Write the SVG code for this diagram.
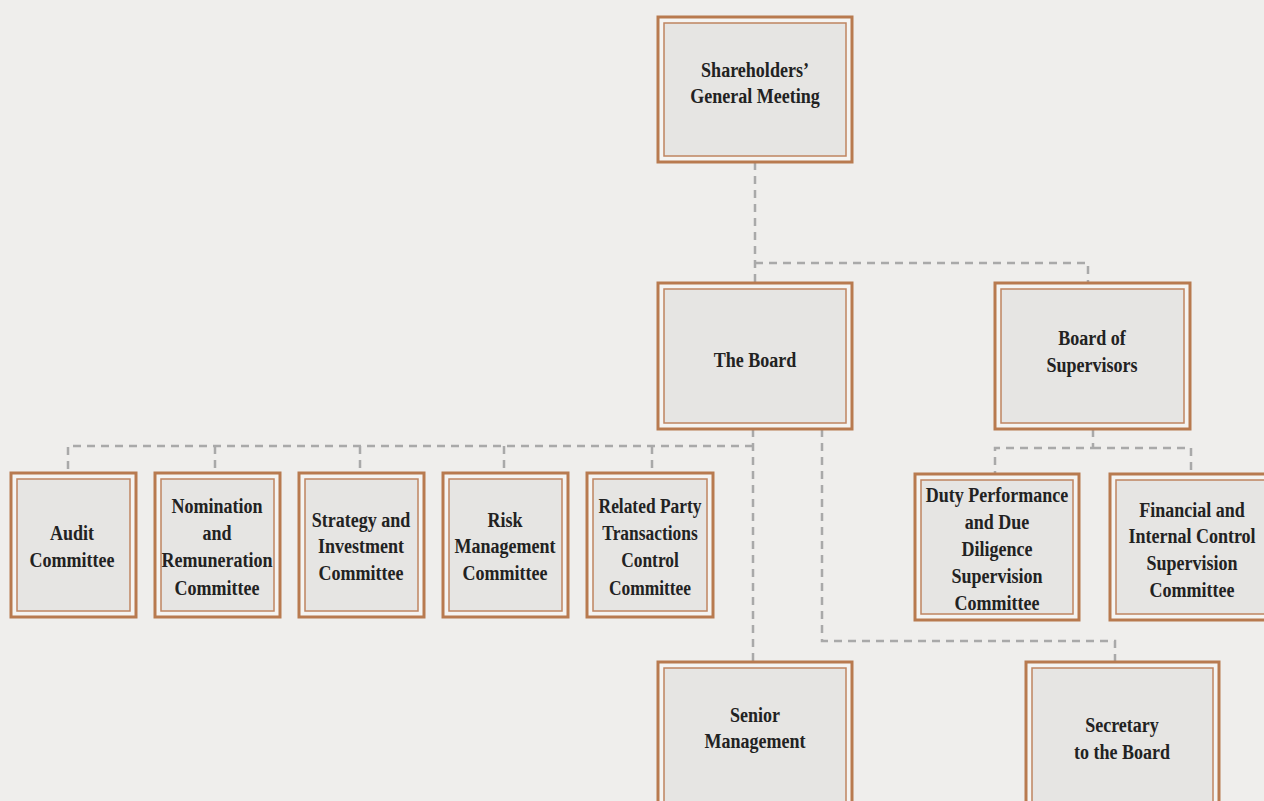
<svg xmlns="http://www.w3.org/2000/svg" width="1264" height="801" viewBox="0 0 1264 801">
<defs>
<style>
.outer{fill:#f5f4f2;stroke:#b87a4f;stroke-width:3}
.inner{fill:#e6e5e3;stroke:#bf8460;stroke-width:1.5}
.conn{fill:none;stroke:#a9a9a9;stroke-width:2.5;stroke-dasharray:8 6}
.tl{font-family:"Liberation Serif","Times New Roman",serif;font-weight:bold;font-size:22px;fill:#222;text-anchor:middle}
.ts{font-family:"Liberation Serif","Times New Roman",serif;font-weight:bold;font-size:20px;fill:#222;text-anchor:middle}
</style>
</defs>
<rect x="0" y="0" width="1264" height="801" fill="#efeeec"/>
<g id="connectors">
<path class="conn" d="M755 162 V283 M755 263 H1088 V283"/>
<path class="conn" d="M753 429 V662 M753 446 H68 V470 M215 446 V470 M360 446 V470 M504 446 V470 M652 446 V470"/>
<path class="conn" d="M822 429 V641 H1115 V662"/>
<path class="conn" d="M1093 429 V448 H995 V474 M1093 448 H1191 V474"/>
</g>
<g id="shareholders">
<rect class="outer" x="658" y="17" width="194" height="145"/>
<rect class="inner" x="664" y="23" width="182" height="133"/>
<g transform="translate(755,0) scale(0.82,1)"><text class="tl"><tspan x="0" y="77">Shareholders’</tspan><tspan x="0" y="103">General Meeting</tspan></text></g>
</g>
<g id="board">
<rect class="outer" x="658" y="283" width="194" height="146"/>
<rect class="inner" x="664" y="289" width="182" height="134"/>
<g transform="translate(755,0) scale(0.82,1)"><text class="tl"><tspan x="0" y="367">The Board</tspan></text></g>
</g>
<g id="supervisors">
<rect class="outer" x="995" y="283" width="195" height="146"/>
<rect class="inner" x="1001" y="289" width="183" height="134"/>
<g transform="translate(1092,0) scale(0.82,1)"><text class="tl"><tspan x="0" y="345">Board of</tspan><tspan x="0" y="372">Supervisors</tspan></text></g>
</g>
<g id="audit">
<rect class="outer" x="11" y="473" width="125" height="144"/>
<rect class="inner" x="17" y="479" width="113" height="132"/>
<g transform="translate(72,0) scale(0.9,1)"><text class="ts"><tspan x="0" y="540">Audit</tspan><tspan x="0" y="567">Committee</tspan></text></g>
</g>
<g id="nomination">
<rect class="outer" x="155" y="473" width="125" height="144"/>
<rect class="inner" x="161" y="479" width="113" height="132"/>
<g transform="translate(217,0) scale(0.9,1)"><text class="ts"><tspan x="0" y="513">Nomination</tspan><tspan x="0" y="540">and</tspan><tspan x="0" y="567">Remuneration</tspan><tspan x="0" y="595">Committee</tspan></text></g>
</g>
<g id="strategy">
<rect class="outer" x="299" y="473" width="125" height="144"/>
<rect class="inner" x="305" y="479" width="113" height="132"/>
<g transform="translate(361,0) scale(0.9,1)"><text class="ts"><tspan x="0" y="527">Strategy and</tspan><tspan x="0" y="553">Investment</tspan><tspan x="0" y="580">Committee</tspan></text></g>
</g>
<g id="risk">
<rect class="outer" x="443" y="473" width="125" height="144"/>
<rect class="inner" x="449" y="479" width="113" height="132"/>
<g transform="translate(505,0) scale(0.9,1)"><text class="ts"><tspan x="0" y="527">Risk</tspan><tspan x="0" y="553">Management</tspan><tspan x="0" y="580">Committee</tspan></text></g>
</g>
<g id="related">
<rect class="outer" x="587" y="473" width="126" height="144"/>
<rect class="inner" x="593" y="479" width="114" height="132"/>
<g transform="translate(650,0) scale(0.87,1)"><text class="ts"><tspan x="0" y="513">Related Party</tspan><tspan x="0" y="540">Transactions</tspan><tspan x="0" y="567">Control</tspan><tspan x="0" y="595">Committee</tspan></text></g>
</g>
<g id="duty">
<rect class="outer" x="915" y="474" width="164" height="146"/>
<rect class="inner" x="921" y="480" width="152" height="134"/>
<g transform="translate(997,0) scale(0.9,1)"><text class="ts"><tspan x="0" y="502">Duty Performance</tspan><tspan x="0" y="529">and Due</tspan><tspan x="0" y="556">Diligence</tspan><tspan x="0" y="583">Supervision</tspan><tspan x="0" y="610">Committee</tspan></text></g>
</g>
<g id="financial">
<rect class="outer" x="1110" y="474" width="164" height="146"/>
<rect class="inner" x="1116" y="480" width="152" height="134"/>
<g transform="translate(1192,0) scale(0.9,1)"><text class="ts"><tspan x="0" y="517">Financial and</tspan><tspan x="0" y="543">Internal Control</tspan><tspan x="0" y="570">Supervision</tspan><tspan x="0" y="597">Committee</tspan></text></g>
</g>
<g id="senior">
<rect class="outer" x="658" y="662" width="194" height="146"/>
<rect class="inner" x="664" y="668" width="182" height="134"/>
<g transform="translate(755,0) scale(0.9,1)"><text class="ts"><tspan x="0" y="722">Senior</tspan><tspan x="0" y="748">Management</tspan></text></g>
</g>
<g id="secretary">
<rect class="outer" x="1026" y="662" width="193" height="146"/>
<rect class="inner" x="1032" y="668" width="181" height="134"/>
<g transform="translate(1122,0) scale(0.9,1)"><text class="ts"><tspan x="0" y="732">Secretary</tspan><tspan x="0" y="759">to the Board</tspan></text></g>
</g>
</svg>
